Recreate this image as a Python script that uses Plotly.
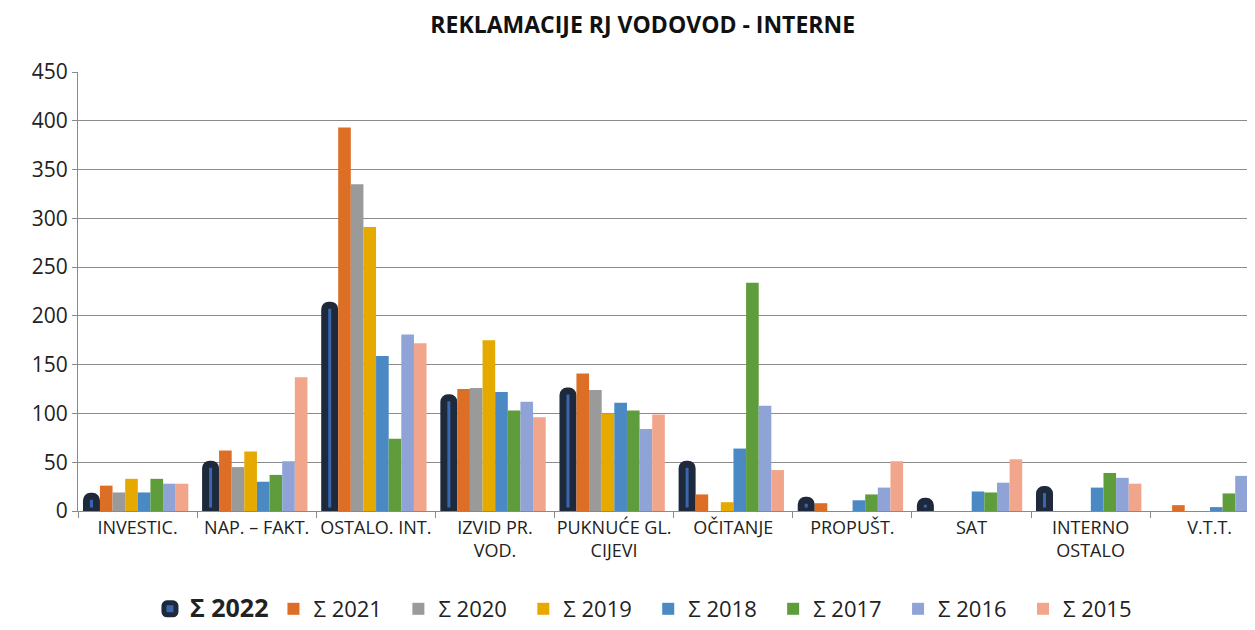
import plotly.graph_objects as go

kategorije = ["INVESTIC.", "NAP. – FAKT.", "OSTALO. INT.", "IZVID PR.<br>VOD.", "PUKNUĆE GL.<br>CIJEVI",
              "OČITANJE", "PROPUŠT.", "SAT", "INTERNO<br>OSTALO", "V.T.T."]

god_2022 = [15, 48, 211, 116, 123, 48, 11, 10, 22, None]
god_2021 = [26, 62, 393, 125, 141, 17, 8, None, None, 6]
god_2020 = [19, 45, 335, 126, 124, None, None, None, None, None]
god_2019 = [33, 61, 291, 175, 100, 9, None, None, None, None]
god_2018 = [19, 30, 159, 122, 111, 64, 11, 20, 24, 4]
god_2017 = [33, 37, 74, 103, 103, 234, 17, 19, 39, 18]
god_2016 = [28, 51, 181, 112, 84, 108, 24, 29, 34, 36]
god_2015 = [28, 137, 172, 96, 99, 42, 51, 53, 28, 32]

x = list(range(len(kategorije)))

fig = go.Figure()

# 2022 - tamni okvir s plavom sredinom
fig.add_trace(go.Bar(
    x=x, y=god_2022, name="<b><span style='font-size:25px'>Σ 2022</span></b>",
    offset=-0.429, width=0.084,
    marker=dict(color="#3a66b0", line=dict(color="#1e2a3b", width=7), cornerradius=4),
))

serije = [
    ("Σ 2021", god_2021, "#dd6e25"),
    ("Σ 2020", god_2020, "#9a9a9a"),
    ("Σ 2019", god_2019, "#e5a900"),
    ("Σ 2018", god_2018, "#4a89c3"),
    ("Σ 2017", god_2017, "#5f9d3c"),
    ("Σ 2016", god_2016, "#8fa3d6"),
    ("Σ 2015", god_2015, "#f1a68b"),
]
pomak = -0.316
for ime, vrijednosti, boja in serije:
    fig.add_trace(go.Bar(
        x=x, y=vrijednosti, name=ime + "  ", offset=pomak, width=0.106,
        marker=dict(color=boja, line=dict(width=0)),
    ))
    pomak += 0.106

# stranica ima 8px margine, pa je figura malo manja
fig.update_layout(
    width=1247, height=622,
    barmode="overlay",
    paper_bgcolor="white", plot_bgcolor="white",
    margin=dict(l=70, r=0, t=64, b=119),
    title=dict(text="<b>REKLAMACIJE RJ VODOVOD - INTERNE</b>", x=0.509, xanchor="center",
               yref="container", y=1 - 17 / 622, yanchor="middle",
               font=dict(family="Open Sans", size=23, color="#111")),
    font=dict(family="Open Sans", color="#222"),
    legend=dict(orientation="h", xref="container", x=0.514, xanchor="center",
                yref="container", y=0.0, yanchor="bottom",
                font=dict(size=22, color="#222"), itemwidth=30, traceorder="normal"),
    showlegend=True,
)

fig.update_xaxes(
    range=[-0.5, 9.38], tickvals=x, ticktext=kategorije, automargin=False,
    ticks="", showgrid=False, showline=True, linecolor="#8a8a8a", linewidth=1,
    tickfont=dict(size=18, color="#222"),
    minor=dict(tickmode="linear", tick0=-0.5, dtick=1, ticks="outside", ticklen=6,
               tickcolor="#8a8a8a", showgrid=False),
)
fig.update_yaxes(
    range=[0, 450], dtick=50, showgrid=True, gridcolor="#8c8c8c", gridwidth=1, automargin=False,
    showline=True, linecolor="#8a8a8a", ticks="outside", ticklen=5, tickcolor="#8a8a8a",
    tickfont=dict(size=21, color="#222"), zeroline=False,
)

fig.write_html("out.html")
